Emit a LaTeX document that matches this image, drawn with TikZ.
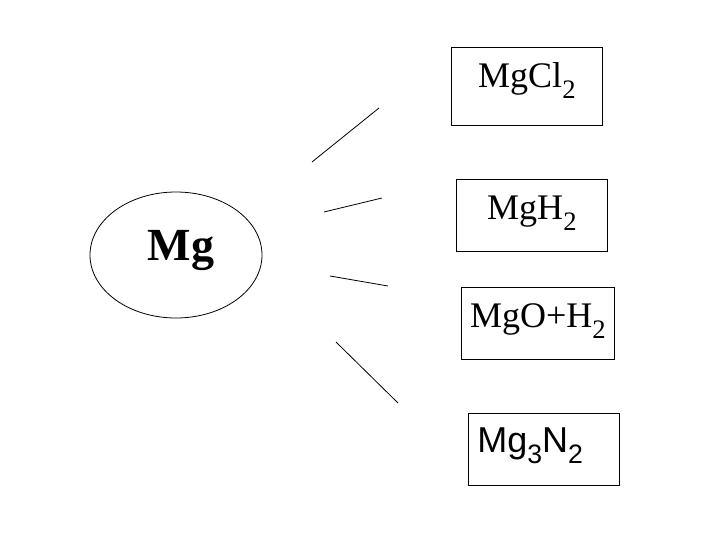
\documentclass[tikz,border=0pt]{standalone}
\usepackage{fontspec}
\usepackage{graphicx}
\setmainfont{Liberation Serif}
\newfontfamily\arialfont{Liberation Sans}
\usetikzlibrary{shapes.geometric}
\newcommand\sbs[1]{\raisebox{-0.3em}{\scalebox{0.74}{#1}}}
\tikzset{
  thinline/.style={line width=0.8pt, black},
  prodbox/.style={draw, line width=0.8pt, rectangle, inner sep=0pt, anchor=north west,
    font=\fontsize{36}{40}\selectfont, text height=40pt},
}
\begin{document}
\begin{tikzpicture}[x=1pt, y=-1pt]
\useasboundingbox (0,0) rectangle (720,540);
% central element
\node[ellipse, draw, line width=0.8pt, minimum width=172pt, minimum height=126pt, inner sep=0pt,
      font=\fontsize{46}{50}\selectfont\bfseries, text height=30pt, text depth=20pt]
      (mg) at (176,255) {\hspace*{10pt}Mg};
% products
\node[prodbox, text width=151pt, text depth=38pt, align=center] (cl) at (451,47) {MgCl\sbs{2}};
\node[prodbox, text width=151pt, text depth=32pt, align=center] (h) at (456,179) {MgH\sbs{2}};
\node[prodbox, text width=153pt, text depth=32pt, align=center] (oh) at (461,287) {MgO+H\sbs{2}};
\node[prodbox, text width=133pt, inner xsep=9pt, text height=39pt, text depth=33pt, align=left,
      font=\fontsize{36}{40}\selectfont\arialfont] (n) at (468,413) {Mg\sbs{3}N\sbs{2}};
% rays
\coordinate (r1a) at (312,162); \coordinate (r1b) at (379,108);
\coordinate (r2a) at (324,212); \coordinate (r2b) at (382,198);
\coordinate (r3a) at (330,276); \coordinate (r3b) at (388,286);
\coordinate (r4a) at (336,342); \coordinate (r4b) at (398,403);
\draw[thinline] (r1a) -- (r1b);
\draw[thinline] (r2a) -- (r2b);
\draw[thinline] (r3a) -- (r3b);
\draw[thinline] (r4a) -- (r4b);
\end{tikzpicture}
\end{document}
